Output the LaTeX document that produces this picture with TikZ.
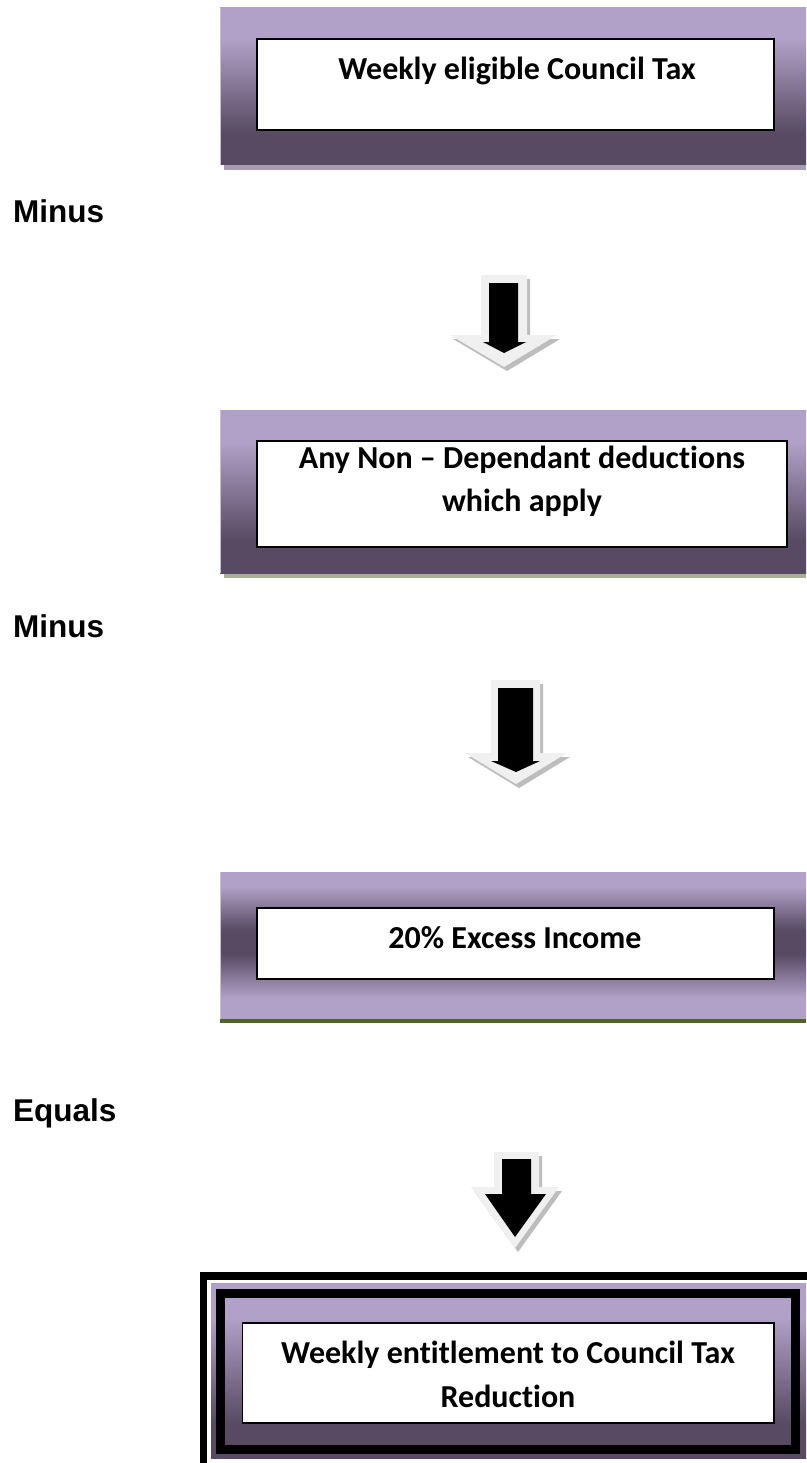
\documentclass[tikz,border=0pt]{standalone}
\usepackage{fontspec}
\setmainfont{Carlito}[Ligatures=NoCommon]
\newfontfamily\labelfont{Liberation Sans}
\definecolor{lav}{HTML}{B1A0C7}
\definecolor{dlav}{HTML}{574A62}
\definecolor{lavedge}{HTML}{C9BEDA}
\definecolor{shadowlav}{HTML}{A89CB3}
\definecolor{shadowsage}{HTML}{A6B095}
\definecolor{olive}{HTML}{4F6228}
\definecolor{arrowlight}{HTML}{F0F0F0}
\definecolor{arrowshadow}{HTML}{BDBDBD}
\pgfdeclareverticalshading{boxgrad}{100bp}{color(0bp)=(dlav); color(35bp)=(dlav); color(65bp)=(lav); color(100bp)=(lav)}
\pgfdeclareverticalshading{bandgrad}{100bp}{color(0bp)=(lav); color(32bp)=(lav); color(47bp)=(dlav); color(55bp)=(dlav); color(70bp)=(lav); color(100bp)=(lav)}
\tikzset{
  whitebox/.style={draw=black, line width=1.5pt, fill=white, inner sep=0pt},
  boxtext/.style={font=\bfseries\fontsize{32}{38}\selectfont, inner sep=0pt},
  lbl/.style={font=\labelfont\bfseries\fontsize{31.5}{37}\selectfont, inner sep=0pt},
  lightarrow/.style={fill=arrowlight},
  shadowarrow/.style={fill=arrowshadow},
  blackarrow/.style={fill=black},
  outerbox/.style={draw=lavedge, line width=1pt},
}
\begin{document}
\begin{tikzpicture}[x=1pt, y=-1pt]
\useasboundingbox (0,0) rectangle (806,1463);
\fill[white] (0,0) rectangle (806,1463);

% ---------- Box 1
\fill[shadowlav] (224,165) rectangle (806,170);
\shade[shading=boxgrad] (220,8) rectangle (806,165);
\draw[outerbox] (220,8) -- (220,165);
\node[whitebox, minimum width=517pt, minimum height=91pt] (b1) at (515.5,84.5) {};
\node[boxtext, anchor=base] (t1) at (517,80) {Weekly eligible Council Tax};

% ---------- label
\node[lbl, anchor=base west] (m1) at (13,223) {Minus};

% ---------- Arrow 1
\fill[shadowarrow] (484,279) -- (530,279) -- (530,339) -- (560,339) -- (507,371) -- (453,339) -- (484,339) -- cycle;
\fill[lightarrow] (481,275) -- (527,275) -- (527,335) -- (557,335) -- (504,367) -- (450,335) -- (481,335) -- cycle;
\fill[blackarrow] (489,283) -- (518,283) -- (518,342) -- (526,342) -- (504,353) -- (483,342) -- (489,342) -- cycle;

% ---------- Box 2
\fill[shadowsage] (224,573) rectangle (806,578);
\shade[shading=boxgrad] (220,410) rectangle (806,573);
\draw[outerbox] (220,410) -- (220,573);
\node[whitebox, minimum width=530pt, minimum height=106pt] (b2) at (522,494) {};
\node[boxtext, anchor=base] (t2a) at (522,468) {Any Non – Dependant deductions};
\node[boxtext, anchor=base] (t2b) at (522,511) {which apply};

% ---------- label
\node[lbl, anchor=base west] (m2) at (13,637) {Minus};

% ---------- Arrow 2
\fill[shadowarrow] (494,684) -- (543,684) -- (543,757) -- (570,757) -- (519,788) -- (468,757) -- (494,757) -- cycle;
\fill[lightarrow] (491,680) -- (540,680) -- (540,753) -- (567,753) -- (516,784) -- (465,753) -- (491,753) -- cycle;
\fill[blackarrow] (498,688) -- (533,688) -- (533,761) -- (540,761) -- (516,772) -- (491,761) -- (498,761) -- cycle;

% ---------- Box 3
\fill[olive] (220,1018) rectangle (806,1023);
\shade[shading=bandgrad] (220,872) rectangle (806,1018);
\draw[outerbox] (220,872) -- (220,1018);
\node[whitebox, minimum width=517pt, minimum height=71pt] (b3) at (515.5,943.5) {};
\node[boxtext, anchor=base] (t3) at (515,948) {20\% Excess Income};

% ---------- label
\node[lbl, anchor=base west] (m3) at (13,1121) {Equals};

% ---------- Arrow 3
\fill[shadowarrow] (497,1156) -- (542,1156) -- (542,1191) -- (562,1191) -- (518,1252) -- (474,1191) -- (497,1191) -- cycle;
\fill[lightarrow] (494,1152) -- (539,1152) -- (539,1187) -- (559,1187) -- (515,1248) -- (471,1187) -- (494,1187) -- cycle;
\fill[blackarrow] (502,1159) -- (531,1159) -- (531,1194) -- (546,1194) -- (515,1237) -- (485,1194) -- (502,1194) -- cycle;

% ---------- Box 4
\draw[line width=7.5pt] (203.5,1276) rectangle (812,1472);
\shade[shading=boxgrad] (211,1283) rectangle (806,1458);
\draw[line width=9pt] (220.5,1293) rectangle (795,1449);
\node[whitebox, minimum width=531.5pt, minimum height=100pt] (b4) at (508,1373) {};
\node[boxtext, anchor=base] (t4a) at (508,1363) {Weekly entitlement to Council Tax};
\node[boxtext, anchor=base] (t4b) at (508,1407) {Reduction};
\end{tikzpicture}
\end{document}
